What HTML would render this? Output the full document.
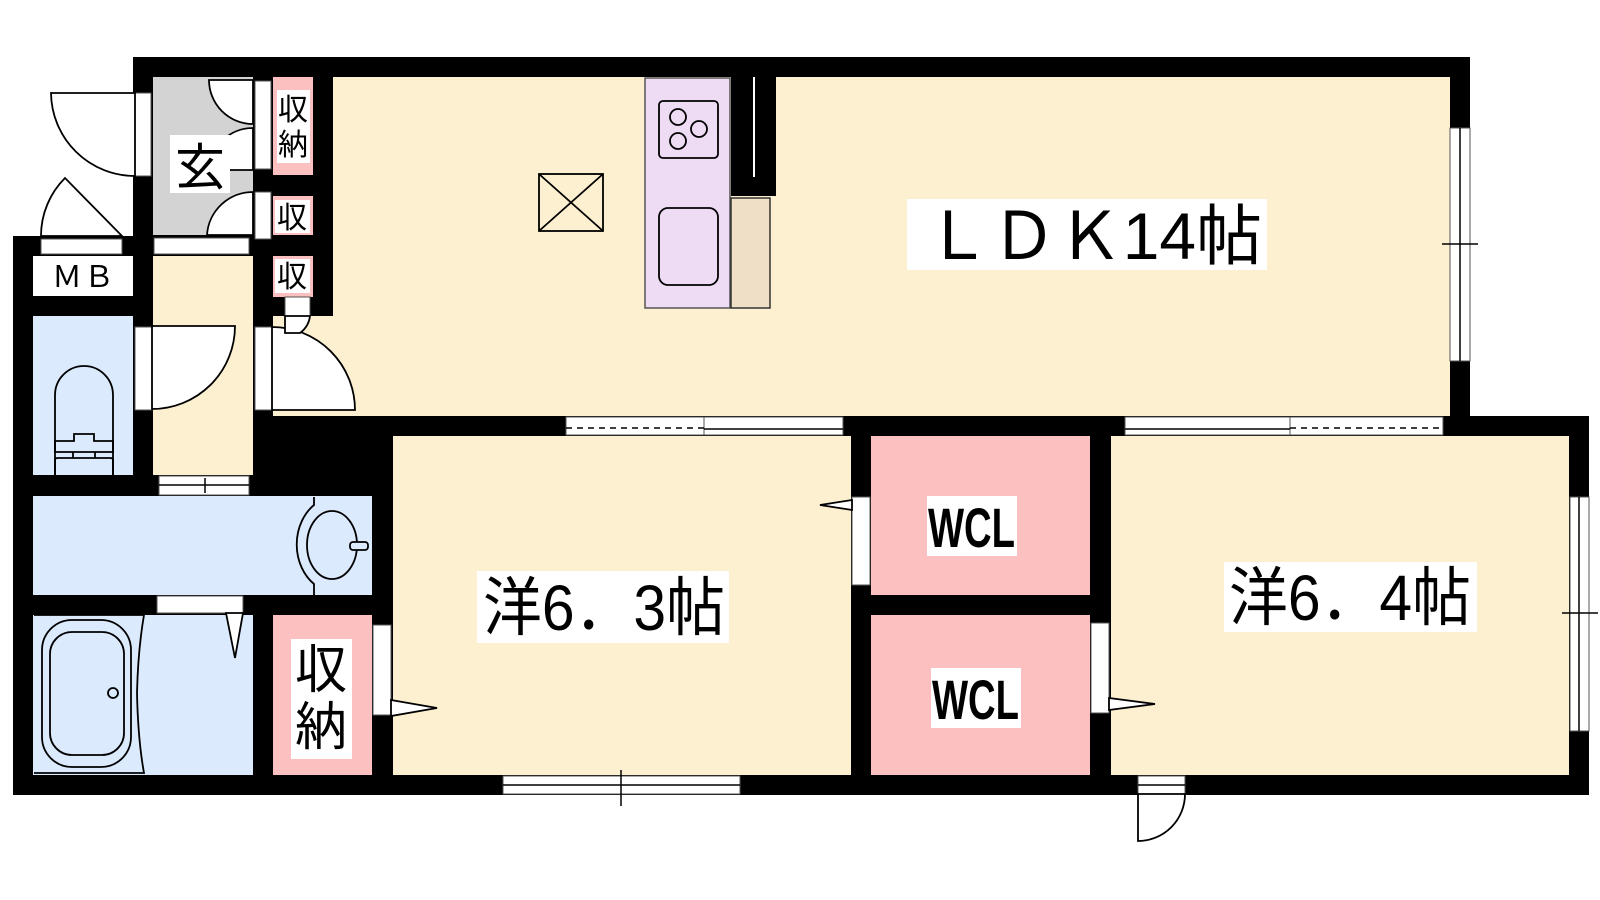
<!DOCTYPE html>
<html><head><meta charset="utf-8"><style>
html,body{margin:0;padding:0;background:#fff;}
svg{display:block}
text{font-family:"Liberation Sans","Noto Sans CJK JP",sans-serif;fill:#000}
</style></head><body>
<svg width="1600" height="900" viewBox="0 0 1600 900" xmlns="http://www.w3.org/2000/svg">
<!-- floors -->
<rect x="333" y="77" width="1117" height="339" fill="#fdf0d0"/>
<rect x="273" y="316" width="80" height="100" fill="#fdf0d0"/>
<rect x="393" y="436" width="458" height="339" fill="#fdf0d0"/>
<rect x="1111" y="436" width="459" height="339" fill="#fdf0d0"/>
<rect x="153" y="77" width="100" height="158" fill="#d3d3d3"/>
<rect x="153" y="256" width="100" height="219" fill="#fdf0d0"/>
<rect x="33" y="316" width="100" height="159" fill="#dbeafd"/>
<rect x="33" y="496" width="339" height="99" fill="#dbeafd"/>
<rect x="33" y="615" width="220" height="160" fill="#dbeafd"/>
<rect x="273" y="615" width="99" height="160" fill="#fdc0c0"/>
<rect x="871" y="436" width="219" height="159" fill="#fdc0c0"/>
<rect x="871" y="615" width="219" height="160" fill="#fdc0c0"/>
<rect x="273" y="77" width="40" height="98" fill="#fdc0c0"/>
<rect x="273" y="196" width="40" height="39" fill="#fdc0c0"/>
<rect x="273" y="256" width="40" height="41" fill="#fdc0c0"/>
<rect x="33" y="256" width="100" height="40" fill="#fff"/>

<!-- walls -->
<g fill="#000">
<rect x="133" y="57" width="1337" height="20"/>
<rect x="1450" y="57" width="20" height="379"/>
<rect x="1450" y="416" width="139" height="20"/>
<rect x="1569" y="416" width="20" height="379"/>
<rect x="13" y="775" width="1576" height="20"/>
<rect x="13" y="236" width="20" height="559"/>
<rect x="13" y="236" width="140" height="20"/>
<rect x="133" y="57" width="20" height="439"/>
<rect x="13" y="296" width="140" height="20"/>
<rect x="253" y="77" width="20" height="239"/>
<rect x="313" y="77" width="20" height="239"/>
<rect x="253" y="175" width="80" height="21"/>
<rect x="133" y="235" width="200" height="21"/>
<rect x="253" y="297" width="80" height="19"/>
<rect x="253" y="316" width="20" height="180"/>
<rect x="253" y="416" width="1197" height="20"/>
<rect x="253" y="416" width="140" height="80"/>
<rect x="13" y="475" width="380" height="21"/>
<rect x="372" y="436" width="21" height="359"/>
<rect x="13" y="595" width="380" height="20"/>
<rect x="253" y="595" width="20" height="200"/>
<rect x="851" y="436" width="20" height="359"/>
<rect x="1090" y="436" width="21" height="359"/>
<rect x="851" y="595" width="260" height="20"/>
<rect x="731" y="77" width="45" height="119"/>
</g>
<rect x="753" y="77" width="2" height="100" fill="#fff"/>

<!-- door/window frames -->
<g fill="#fff" stroke="#555" stroke-width="1">
<rect x="135" y="93" width="16" height="83"/>
<rect x="255" y="81" width="16" height="88"/>
<rect x="255" y="192" width="16" height="47"/>
<rect x="154" y="238" width="95" height="16"/>
<rect x="41" y="239" width="81" height="15"/>
<rect x="285" y="297" width="25" height="19"/>
<rect x="135" y="327" width="17" height="83"/>
<rect x="255" y="327" width="17" height="83"/>
<rect x="159" y="476" width="90" height="19"/>
<rect x="157" y="596" width="86" height="17"/>
<rect x="373" y="625" width="18" height="90"/>
<rect x="852" y="497" width="18" height="88"/>
<rect x="1091" y="623" width="18" height="90"/>
<rect x="1138" y="776" width="47" height="18"/>
<!-- windows -->
<rect x="566" y="417" width="138" height="18"/>
<rect x="704" y="417" width="139" height="18"/>
<rect x="1125" y="417" width="165" height="18"/>
<rect x="1290" y="417" width="153" height="18"/>
<rect x="1450" y="128" width="20" height="233"/>
<rect x="1570" y="497" width="19" height="234"/>
<rect x="503" y="776" width="237" height="18"/>
</g>
<g stroke="#000" stroke-width="1.5" fill="none">
<line x1="704" y1="429" x2="843" y2="429"/>
<line x1="1125" y1="429" x2="1290" y2="429"/>
<line x1="566" y1="428" x2="704" y2="428" stroke-dasharray="6,5"/>
<line x1="1290" y1="428" x2="1443" y2="428" stroke-dasharray="6,5"/>
<line x1="1460" y1="128" x2="1460" y2="361"/>
<line x1="1442" y1="244" x2="1478" y2="244"/>
<line x1="1579" y1="497" x2="1579" y2="731"/>
<line x1="1562" y1="613" x2="1598" y2="613"/>
<line x1="503" y1="785" x2="740" y2="785"/>
<line x1="621" y1="770" x2="621" y2="806"/>
<line x1="159" y1="485" x2="249" y2="485"/>
<line x1="205" y1="478" x2="205" y2="493"/>
<line x1="1138" y1="785" x2="1185" y2="785"/>
</g>

<!-- door swings -->
<g stroke="#000" stroke-width="1.8" fill="#fff">
<path d="M135,93 L51,93 A84,84 0 0 0 135,176 Z"/>
<path d="M253,80 L209,80 A44,44 0 0 0 253,124 Z" />
<path d="M253,128 A44,44 0 0 0 209,170 L253,170 Z"/>
<path d="M253,192 A46,46 0 0 0 207,235 L253,235 Z"/>
<path d="M41,236 A82,82 0 0 1 65,178 L122,236 Z"/>
<path d="M152,326 L235,326 A83,83 0 0 1 152,409 Z"/>
<path d="M272,410 L355,410 A83,83 0 0 0 272,327 Z"/>
<path d="M285,316 L310,316 A25,25 0 0 1 300,333 L285,333 Z"/>
<path d="M1138,794 L1185,794 A47,47 0 0 1 1138,841 Z"/>
<path d="M226,613 L243,613 L235,658 Z"/>
<path d="M391,700 L437,708 L391,716 Z"/>
<path d="M852,500 L820,505 L852,510 Z"/>
<path d="M1109,698 L1155,704 L1109,710 Z"/>
</g>

<!-- kitchen -->
<rect x="645" y="78" width="85" height="230" fill="#eedcf4" stroke="#555" stroke-width="1.5"/>
<rect x="731" y="198" width="39" height="110" fill="#eedfc6" stroke="#333" stroke-width="1.5"/>
<rect x="659" y="101" width="59" height="57" rx="4" fill="none" stroke="#000" stroke-width="1.8"/>
<g fill="none" stroke="#000" stroke-width="1.8">
<circle cx="678" cy="117" r="8"/><circle cx="699" cy="129" r="8"/><circle cx="678" cy="141" r="8"/>
</g>
<rect x="659" y="208" width="59" height="77" rx="9" fill="none" stroke="#000" stroke-width="1.8"/>
<g fill="none" stroke="#000" stroke-width="1.8">
<rect x="539" y="174" width="64" height="57"/>
<line x1="539" y1="174" x2="603" y2="231"/><line x1="603" y1="174" x2="539" y2="231"/>
</g>

<!-- toilet -->
<g fill="none" stroke="#000" stroke-width="1.8">
<path d="M55,475 L55,395 A29,29 0 0 1 113,395 L113,475"/>
<path d="M55,441 L74,441 L74,434 L94,434 L94,441 L113,441 L113,452 L55,452 Z"/>
<line x1="73" y1="452" x2="73" y2="458"/><line x1="95" y1="452" x2="95" y2="458"/>
<path d="M55,475 L55,460 Q55,458 58,458 L110,458 Q113,458 113,460 L113,475"/>
</g>
<!-- sink -->
<g fill="none" stroke="#000" stroke-width="1.8">
<path d="M314,497 L314,505 A40,48 0 0 0 314,584 L314,595"/>
<ellipse cx="332" cy="545" rx="25" ry="34"/>
<rect x="350" y="542" width="18" height="8" rx="3" fill="#dbeafd"/>
</g>
<!-- bath -->
<g fill="none" stroke="#000" stroke-width="1.8">
<path d="M34,615 L144,615 Q138,650 137,693 Q138,740 144,773 L34,773"/>
<rect x="42" y="620" width="89" height="147" rx="30"/>
<rect x="50" y="632" width="74" height="123" rx="22"/>
<circle cx="113" cy="693" r="5"/>
</g>

<!-- labels -->
<rect x="170" y="135" width="60" height="58" fill="#fff"/>
<text x="200" y="185" font-size="50" text-anchor="middle">玄</text>
<rect x="277" y="90" width="33" height="73" fill="#fff"/>
<text x="293" y="120" font-size="30" text-anchor="middle">収</text>
<text x="293" y="155" font-size="30" text-anchor="middle">納</text>
<rect x="275" y="200" width="35" height="33" fill="#fff"/>
<text x="292" y="228" font-size="30" text-anchor="middle">収</text>
<rect x="275" y="259" width="35" height="34" fill="#fff"/>
<text x="292" y="287" font-size="30" text-anchor="middle">収</text>
<text x="83" y="287" font-size="30" text-anchor="middle" textLength="62" lengthAdjust="spacing">ＭＢ</text>
<rect x="291" y="639" width="61" height="120" fill="#fff"/>
<text x="321" y="688" font-size="52" text-anchor="middle">収</text>
<text x="321" y="745" font-size="52" text-anchor="middle">納</text>
<rect x="907" y="199" width="360" height="71" fill="#fff"/>
<text x="925" y="259" font-size="66" textLength="337" lengthAdjust="spacingAndGlyphs">ＬＤＫ14帖</text>
<rect x="477" y="571" width="252" height="72" fill="#fff"/>
<text x="483" y="630" font-size="64" textLength="242" lengthAdjust="spacingAndGlyphs">洋6．3帖</text>
<rect x="1224" y="562" width="253" height="70" fill="#fff"/>
<text x="1229" y="620" font-size="64" textLength="242" lengthAdjust="spacingAndGlyphs">洋6．4帖</text>
<rect x="927" y="496" width="90" height="60" fill="#fff"/>
<text x="928" y="547" font-size="56" font-weight="bold" textLength="87" lengthAdjust="spacingAndGlyphs">WCL</text>
<rect x="931" y="668" width="90" height="60" fill="#fff"/>
<text x="932" y="719" font-size="56" font-weight="bold" textLength="87" lengthAdjust="spacingAndGlyphs">WCL</text>
</svg>
</body></html>
